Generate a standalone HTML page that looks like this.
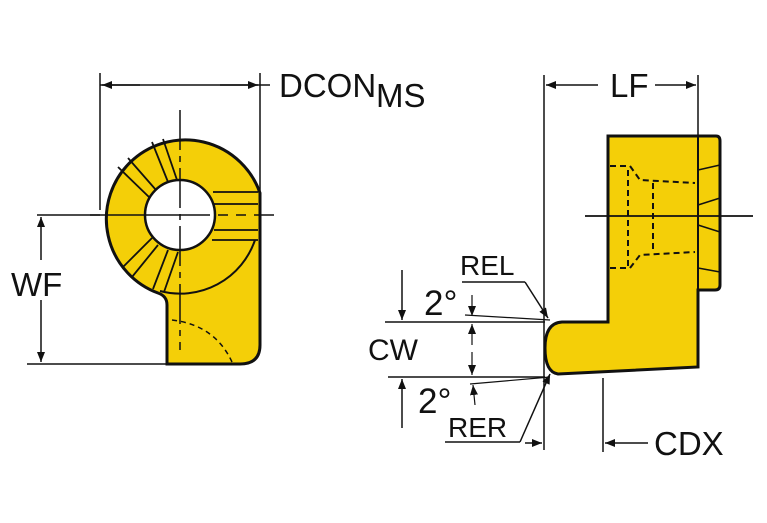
<!DOCTYPE html>
<html><head><style>
html,body{margin:0;padding:0;background:#fff;}
svg{display:block;}
text{font-family:"Liberation Sans",sans-serif;fill:#111;}
</style></head><body>
<svg width="767" height="523" viewBox="0 0 767 523" xmlns="http://www.w3.org/2000/svg">
<defs>
<marker id="a" markerWidth="10" markerHeight="8" refX="10" refY="4" orient="auto" markerUnits="userSpaceOnUse"><path d="M0,0 L10,4 L0,8 Z" fill="#111"/></marker>
</defs>
<g stroke="#111" fill="none">
<!-- LEFT VIEW -->
<path d="M167,364 L167,305 Q167,296 158,293 A79,79 0 1 1 260,193 L260,345 Q260,364 240,364 Z" fill="#f4cf08" stroke-width="3"/>
<circle cx="180" cy="215" r="35" fill="#fff" stroke-width="2.5"/>
<path d="M160,291 A79,79 0 0 0 255,240" stroke-width="2"/>
<g stroke-width="1.8">
<line x1="213" y1="192" x2="258" y2="192"/><line x1="214" y1="204" x2="258" y2="204"/>
<line x1="214" y1="230" x2="258" y2="230"/><line x1="212" y1="240" x2="258" y2="240"/>
<line x1="118" y1="167" x2="150" y2="198"/><line x1="128" y1="158" x2="156" y2="190"/>
<line x1="152" y1="142" x2="168" y2="182"/><line x1="163" y1="139" x2="177" y2="180"/>
<line x1="122" y1="268" x2="152" y2="238"/><line x1="132" y1="277" x2="158" y2="245"/>
<line x1="153" y1="289" x2="168" y2="250"/><line x1="164" y1="292" x2="178" y2="252"/>
</g>
<path d="M172,320 Q215,325 232,362" stroke-width="1.5" stroke-dasharray="5,4"/>
<line x1="180" y1="110" x2="180" y2="350" stroke-width="1.5" stroke-dasharray="40,6,6,6"/>
<line x1="90" y1="215" x2="305" y2="215" stroke-width="1.5" stroke-dasharray="120,8,10,8,10,8,20"/>
<line x1="37" y1="215" x2="100" y2="215" stroke-width="1.5"/>
<line x1="27" y1="364" x2="167" y2="364" stroke-width="1.5"/>
<line x1="100" y1="73" x2="100" y2="210" stroke-width="1.5"/>
<line x1="260" y1="73" x2="260" y2="193" stroke-width="1.5"/>
<line x1="100" y1="85" x2="270" y2="85" stroke-width="1.5"/>
<line x1="140" y1="85" x2="102" y2="85" stroke-width="1.5" marker-end="url(#a)"/>
<line x1="220" y1="85" x2="258" y2="85" stroke-width="1.5" marker-end="url(#a)"/>
<line x1="41" y1="260" x2="41" y2="217" stroke-width="1.5" marker-end="url(#a)"/>
<line x1="41" y1="300" x2="41" y2="362" stroke-width="1.5" marker-end="url(#a)"/>
<!-- RIGHT VIEW -->
<path d="M608,136 L716,136 Q720,136 720,141 L720,285 Q720,290 715,290 L698,290 L698,367 L558,374 Q545,372 545,348 Q545,323 562,322 L608,322 Z" fill="#f4cf08" stroke-width="3"/>
<line x1="698" y1="136" x2="698" y2="290" stroke-width="2"/>
<g stroke-width="1.5">
<line x1="698" y1="170" x2="720" y2="165"/><line x1="698" y1="205" x2="720" y2="198"/>
<line x1="698" y1="225" x2="720" y2="232"/><line x1="698" y1="268" x2="720" y2="272"/>
</g>
<g stroke-width="2" stroke-dasharray="6,4">
<path d="M610,166 L630,166 L640,180 L695,183"/>
<path d="M610,268 L630,268 L640,255 L695,252"/>
<line x1="628" y1="170" x2="628" y2="266"/>
<line x1="653" y1="183" x2="653" y2="252"/>
</g>
<line x1="585" y1="216" x2="753" y2="216" stroke-width="1.8"/>
<line x1="544" y1="75" x2="544" y2="450" stroke-width="1.5"/>
<line x1="698" y1="75" x2="698" y2="136" stroke-width="1.5"/>
<line x1="598" y1="85" x2="546" y2="85" stroke-width="1.5" marker-end="url(#a)"/>
<line x1="655" y1="85" x2="696" y2="85" stroke-width="1.5" marker-end="url(#a)"/>
<line x1="603" y1="378" x2="603" y2="452" stroke-width="1.5"/>
<line x1="648" y1="443" x2="605" y2="443" stroke-width="1.5" marker-end="url(#a)"/>
<line x1="525" y1="443" x2="542" y2="443" stroke-width="1.5" marker-end="url(#a)"/>
<line x1="385" y1="322" x2="545" y2="322" stroke-width="1.5"/>
<line x1="388" y1="377" x2="545" y2="377" stroke-width="1.5"/>
<line x1="402" y1="270" x2="402" y2="320" stroke-width="1.5" marker-end="url(#a)"/>
<line x1="402" y1="428" x2="402" y2="379" stroke-width="1.5" marker-end="url(#a)"/>
<line x1="462" y1="282" x2="525" y2="282" stroke-width="1.5"/>
<line x1="525" y1="282" x2="548" y2="318" stroke-width="1.5" marker-end="url(#a)"/>
<line x1="445" y1="442" x2="520" y2="442" stroke-width="1.5"/>
<line x1="520" y1="442" x2="550" y2="374" stroke-width="1.5" marker-end="url(#a)"/>
<line x1="465" y1="315" x2="550" y2="320" stroke-width="1.2"/>
<line x1="470" y1="384" x2="550" y2="377" stroke-width="1.2"/>
<line x1="472" y1="295" x2="472" y2="316" stroke-width="1.2" marker-end="url(#a)"/>
<line x1="472" y1="345" x2="472" y2="324" stroke-width="1.2" marker-end="url(#a)"/>
<line x1="472" y1="352" x2="472" y2="375" stroke-width="1.2" marker-end="url(#a)"/>
<line x1="475" y1="405" x2="473" y2="385" stroke-width="1.2" marker-end="url(#a)"/>
</g>
<text x="279" y="97" font-size="33">DCON</text>
<text x="376" y="107" font-size="33">MS</text>
<text x="11" y="296" font-size="33">WF</text>
<text x="610" y="97" font-size="33">LF</text>
<text x="368" y="360" font-size="30">CW</text>
<text x="424" y="315" font-size="35">2°</text>
<text x="418" y="413" font-size="35">2°</text>
<text x="460" y="275" font-size="28">REL</text>
<text x="448" y="437" font-size="28">RER</text>
<text x="654" y="455" font-size="33">CDX</text>
</svg>
</body></html>
